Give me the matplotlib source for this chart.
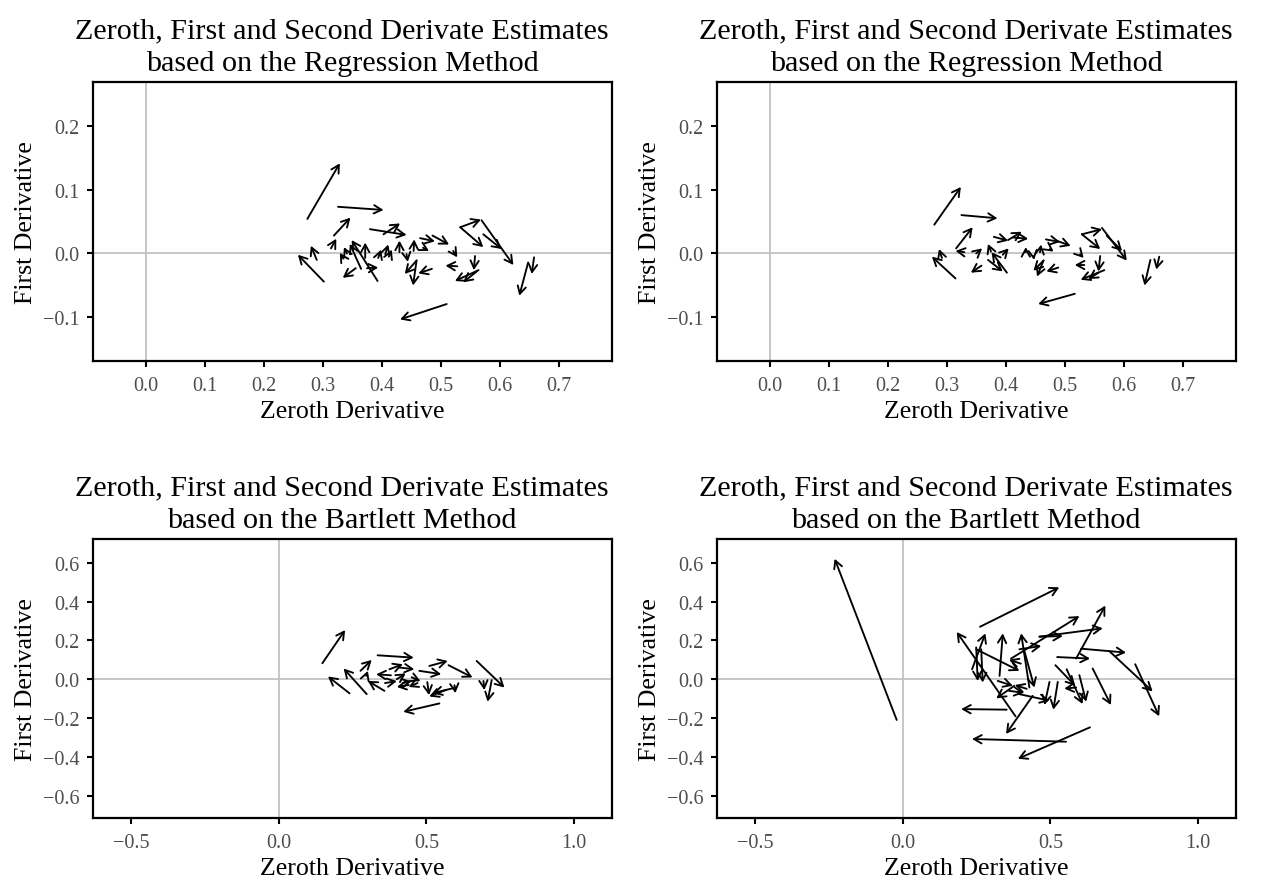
import matplotlib
matplotlib.use("Agg")
import matplotlib.pyplot as plt

plt.rcParams['font.family'] = 'Liberation Serif'

# ---- data: arrows go from (x0, y0) to (x1, y1) ----
# top left: regression method
reg_a_x0 = [0.274, 0.326, 0.319, 0.314, 0.302, 0.290, 0.380, 0.403, 0.465, 0.486,
            0.430, 0.454, 0.470, 0.442, 0.459, 0.459, 0.485, 0.510, 0.528, 0.521,
            0.356, 0.393, 0.372, 0.375, 0.406, 0.394, 0.341, 0.533, 0.533, 0.569,
            0.572, 0.558, 0.564, 0.561, 0.648, 0.658, 0.365, 0.412, 0.335]
reg_a_y0 = [0.054, 0.073, 0.028, 0.008, -0.044, -0.010, 0.038, 0.030, 0.024, 0.028,
            0.002, 0.004, 0.009, -0.001, -0.011, -0.011, -0.024, -0.079, -0.020, 0.004,
            -0.023, -0.043, -0.007, -0.023, -0.001, -0.007, 0.000, 0.041, 0.041, 0.052,
            0.030, -0.004, -0.026, -0.028, -0.014, -0.006, -0.024, -0.005, -0.008]
reg_a_x1 = [0.329, 0.403, 0.347, 0.323, 0.258, 0.280, 0.442, 0.431, 0.490, 0.514,
            0.430, 0.455, 0.480, 0.444, 0.439, 0.453, 0.462, 0.431, 0.508, 0.528,
            0.334, 0.349, 0.372, 0.394, 0.411, 0.399, 0.336, 0.568, 0.572, 0.623,
            0.603, 0.556, 0.524, 0.538, 0.633, 0.654, 0.346, 0.417, 0.329]
reg_a_y1 = [0.141, 0.068, 0.056, 0.023, -0.002, 0.012, 0.029, 0.047, 0.019, 0.014,
            0.020, 0.022, 0.004, -0.013, -0.032, -0.050, -0.031, -0.103, -0.019, -0.006,
            -0.038, 0.021, 0.017, -0.022, 0.014, 0.006, 0.010, 0.053, 0.010, -0.018,
            0.007, -0.026, -0.043, -0.045, -0.066, -0.032, 0.015, 0.006, 0.001]

# top right: regression method
reg_b_x0 = [0.279, 0.325, 0.316, 0.315, 0.292, 0.359, 0.402, 0.380, 0.404, 0.413,
            0.434, 0.447, 0.458, 0.464, 0.464, 0.489, 0.468, 0.486, 0.475, 0.529,
            0.529, 0.563, 0.571, 0.560, 0.533, 0.526, 0.567, 0.557, 0.517, 0.645,
            0.660, 0.330, 0.350, 0.375, 0.395, 0.370]
reg_b_y0 = [0.045, 0.060, 0.008, -0.039, -0.007, -0.019, -0.030, 0.026, 0.021, 0.025,
            0.002, -0.004, 0.002, -0.011, -0.011, -0.022, 0.022, 0.020, 0.007, 0.030,
            0.030, 0.040, 0.028, -0.004, -0.018, -0.001, -0.026, -0.030, -0.063, -0.010,
            -0.005, 0.002, 0.000, 0.003, -0.002, -0.010]
reg_b_x1 = [0.324, 0.386, 0.344, 0.275, 0.287, 0.341, 0.376, 0.404, 0.427, 0.438,
            0.434, 0.448, 0.460, 0.453, 0.447, 0.469, 0.492, 0.510, 0.481, 0.563,
            0.560, 0.605, 0.597, 0.557, 0.517, 0.532, 0.527, 0.540, 0.455, 0.635,
            0.655, 0.315, 0.360, 0.370, 0.405, 0.395]
reg_b_y1 = [0.104, 0.055, 0.041, -0.005, 0.007, -0.030, 0.002, 0.020, 0.034, 0.023,
            0.010, -0.010, 0.014, -0.036, -0.027, -0.028, 0.018, 0.012, 0.003, 0.038,
            0.007, -0.011, 0.004, -0.028, -0.018, -0.007, -0.041, -0.040, -0.079, -0.050,
            -0.025, 0.004, 0.008, 0.015, 0.008, -0.028]

# bottom left: bartlett method
bart_a_x0 = [0.148, 0.240, 0.298, 0.277, 0.296, 0.335, 0.358, 0.375, 0.409, 0.510,
             0.575, 0.476, 0.670, 0.693, 0.721, 0.544, 0.600, 0.567, 0.503, 0.595,
             0.380, 0.360, 0.400, 0.440, 0.450, 0.470, 0.420]
bart_a_y0 = [0.082, -0.073, -0.077, 0.043, 0.017, 0.123, -0.060, 0.051, 0.060, 0.068,
             0.072, 0.043, 0.094, -0.009, -0.005, -0.125, -0.043, -0.055, -0.015, -0.031,
             0.020, -0.020, 0.000, -0.030, 0.010, -0.020, -0.020]
bart_a_x1 = [0.225, 0.167, 0.220, 0.315, 0.302, 0.457, 0.302, 0.420, 0.459, 0.572,
             0.656, 0.550, 0.764, 0.696, 0.707, 0.422, 0.521, 0.510, 0.509, 0.598,
             0.330, 0.400, 0.430, 0.400, 0.480, 0.440, 0.450]
bart_a_y1 = [0.253, 0.014, 0.055, 0.099, 0.043, 0.111, -0.009, 0.077, 0.051, 0.094,
             0.009, 0.026, -0.043, -0.056, -0.116, -0.168, -0.072, -0.089, -0.082, -0.072,
             0.025, -0.010, 0.030, -0.040, -0.010, -0.040, -0.010]

# bottom right: bartlett method
bart_b_x0 = [-0.020, 0.262, 0.382, 0.235, 0.328, 0.429, 0.367, 0.395, 0.463, 0.463,
             0.587, 0.604, 0.699, 0.787, 0.523, 0.517, 0.555, 0.598, 0.643, 0.587,
             0.525, 0.497, 0.352, 0.553, 0.634, 0.440, 0.249, 0.395, 0.266, 0.249,
             0.412, 0.322, 0.378, 0.400, 0.420, 0.360]
bart_b_y0 = [-0.210, 0.270, -0.191, 0.051, 0.017, -0.043, 0.106, 0.154, 0.219, 0.219,
             0.106, 0.157, 0.145, 0.077, 0.114, 0.072, 0.051, 0.021, 0.055, -0.043,
             -0.014, -0.014, -0.157, -0.322, -0.248, -0.086, 0.154, -0.077, 0.154, 0.164,
             0.145, -0.009, -0.034, 0.080, -0.050, -0.060]
bart_b_x1 = [-0.230, 0.530, 0.183, 0.280, 0.339, 0.401, 0.598, 0.469, 0.677, 0.542,
             0.686, 0.756, 0.846, 0.868, 0.634, 0.584, 0.609, 0.621, 0.705, 0.547,
             0.510, 0.480, 0.198, 0.235, 0.390, 0.350, 0.395, 0.497, 0.271, 0.254,
             0.446, 0.373, 0.317, 0.360, 0.380, 0.410]
bart_b_y1 = [0.620, 0.473, 0.243, 0.236, 0.236, 0.236, 0.325, 0.171, 0.262, 0.222,
             0.379, 0.137, -0.063, -0.191, 0.106, -0.034, -0.128, -0.116, -0.133, -0.048,
             -0.157, -0.133, -0.154, -0.308, -0.410, -0.282, 0.043, -0.111, -0.017, -0.009,
             -0.043, -0.034, -0.099, 0.100, -0.030, -0.070]

reg_xticks = [0.0, 0.1, 0.2, 0.3, 0.4, 0.5, 0.6, 0.7]
reg_yticks = [-0.1, 0.0, 0.1, 0.2]
bart_xticks = [-0.5, 0.0, 0.5, 1.0]
bart_yticks = [-0.6, -0.4, -0.2, 0.0, 0.2, 0.4, 0.6]

title_line1 = "Zeroth, First and Second Derivate Estimates"

W, H = 1263, 879
fig = plt.figure(figsize=(W / 100, H / 100), dpi=100)


def fmt(v):
    return f"{v:.1f}".replace("-", "\u2212")


def panel(left, top, x0, y0, x1, y1, xlim, ylim, xticks, yticks, method):
    w, h = 519, 279
    ax = fig.add_axes([left / W, 1 - (top + h) / H, w / W, h / H])
    ax.axhline(0, color='#BEBEBE', lw=1.2, zorder=0)
    ax.axvline(0, color='#BEBEBE', lw=1.2, zorder=0)
    for a, b, c, d in zip(x0, y0, x1, y1):
        ax.annotate('', xy=(c, d), xytext=(a, b),
                    arrowprops=dict(arrowstyle='->,head_length=0.55,head_width=0.3',
                                    lw=1.35, color='black', shrinkA=0, shrinkB=0))
    ax.set_xlim(*xlim)
    ax.set_ylim(*ylim)
    ax.set_xticks(xticks)
    ax.set_xticklabels([fmt(v) for v in xticks])
    ax.set_yticks(yticks)
    ax.set_yticklabels([fmt(v) for v in yticks])
    for s in ax.spines.values():
        s.set_linewidth(1.6)
    ax.tick_params(direction='out', length=4.5, width=1.5, colors='black',
                   labelcolor='#4D4D4D', labelsize=14.5)
    ax.tick_params(axis='x', pad=6.5)
    ax.tick_params(axis='y', pad=5)
    ax.set_xlabel("Zeroth Derivative", fontsize=18.6)
    ax.set_ylabel("First Derivative", fontsize=18.6)
    ax.xaxis.set_label_coords(0.5, -39 / h)
    ax.yaxis.set_label_coords(-(93 - 37) / w, 0.5)
    cx = left + 249
    fig.text(cx / W, 1 - (top - 45) / H, title_line1, ha='center', va='baseline',
             fontsize=21.7)
    fig.text(cx / W, 1 - (top - 12) / H, "based on the " + method + " Method",
             ha='center', va='baseline', fontsize=21.7)


panel(93, 83, reg_a_x0, reg_a_y0, reg_a_x1, reg_a_y1, (-0.089, 0.790), (-0.168, 0.268),
      reg_xticks, reg_yticks, "Regression")
panel(717, 83, reg_b_x0, reg_b_y0, reg_b_x1, reg_b_y1, (-0.089, 0.790), (-0.168, 0.268),
      reg_xticks, reg_yticks, "Regression")
panel(93, 540, bart_a_x0, bart_a_y0, bart_a_x1, bart_a_y1, (-0.628, 1.128), (-0.715, 0.722),
      bart_xticks, bart_yticks, "Bartlett")
panel(717, 540, bart_b_x0, bart_b_y0, bart_b_x1, bart_b_y1, (-0.628, 1.128), (-0.715, 0.722),
      bart_xticks, bart_yticks, "Bartlett")

fig.savefig("out.png", dpi=100)
